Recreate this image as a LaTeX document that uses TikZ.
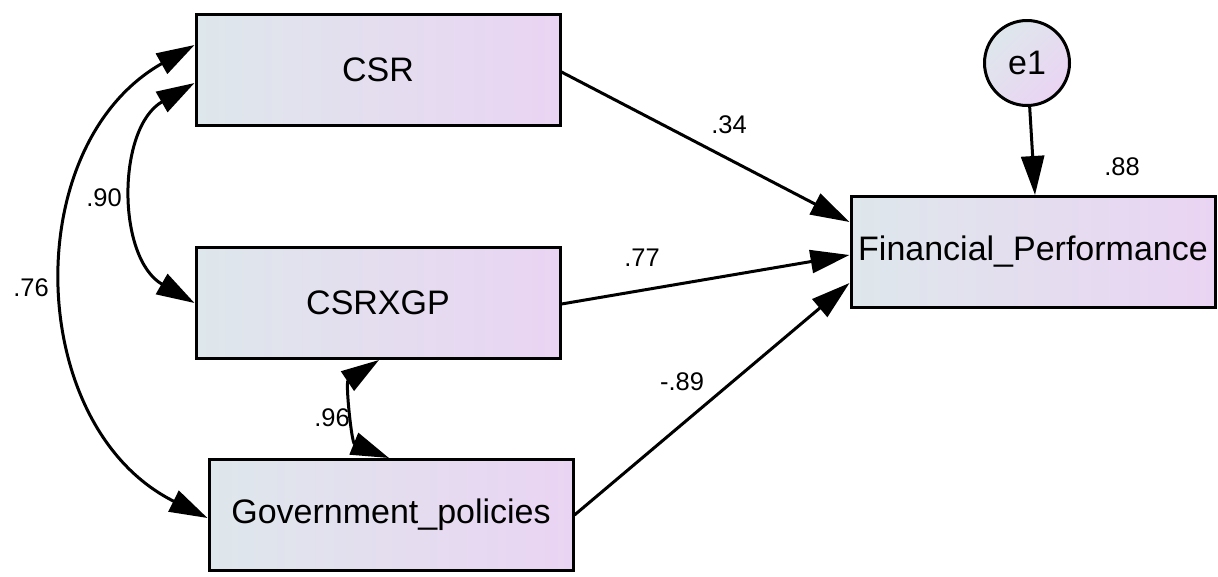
\documentclass[tikz,border=0pt]{standalone}
\usepackage{fontspec}
\setmainfont{Liberation Sans}
\usepackage{xcolor}
\usepackage{tikz}
\usetikzlibrary{arrows.meta, positioning}
\definecolor{boxleft}{RGB}{222,231,235}
\definecolor{boxright}{RGB}{234,212,243}

\begin{document}
\begin{tikzpicture}[
  x=1pt, y=1pt,
  box/.style={rectangle, draw, line width=3pt, left color=boxleft, right color=boxright,
              minimum width=364pt, minimum height=111pt, inner sep=3pt,
              font=\fontsize{34}{40}\selectfont},
  err/.style={circle, draw, line width=3pt, top color=boxleft, bottom color=boxright,
              shading angle=45, minimum size=85pt, inner sep=0pt,
              font=\fontsize{34}{40}\selectfont},
  lbl/.style={font=\fontsize{25.5}{30}\selectfont, inner sep=0pt},
  arrow/.style={-{Triangle[length=39pt, width=23pt]}, line width=3pt},
  covar/.style={{Triangle[length=38pt, width=23pt]}-{Triangle[length=38pt, width=23pt]},
                line width=3pt}
]
  \useasboundingbox (0,0) rectangle (1218,-576);

  % 左列
  \node[box] (csr) at (378,-70) {CSR};
  \node[box, below=119pt of csr] (cxg) {CSRXGP};
  \node[box, below=98pt of cxg, xshift=13pt] (gov) {Government\_policies};

  % 右侧
  \node[box] (fp) at (1033,-252) {Financial\_Performance};
  \node[err, above=88pt of fp, xshift=-6pt] (e1) {e1};

  % 路径
  \draw[arrow] ([yshift=-2pt]csr.east) -- ([yshift=30pt]fp.west);
  \draw[arrow] ([yshift=-1pt]cxg.east) -- ([yshift=-3pt]fp.west);
  \draw[arrow] (gov.east) -- ([yshift=-31pt]fp.west);
  \draw[arrow] (e1) -- ([xshift=2pt]fp.north);

  % 协方差
  \draw[covar] ([yshift=25pt]csr.west) to[bend right=62, looseness=1.1] ([yshift=-3pt]gov.west);
  \draw[covar] ([yshift=-13pt]csr.west) to[bend right=60, looseness=1.05] (cxg.west);
  \draw[covar] ([xshift=1pt]cxg.south) to[bend right=62, looseness=1.05] ([xshift=-2pt]gov.north);

  % 系数
  \node[lbl] (b34) at (729,-125) {.34};
  \node[lbl] (b77) at (642,-258) {.77};
  \node[lbl] (b89) at (682,-382) {-.89};
  \node[lbl] (r88) at (1122,-167) {.88};
  \node[lbl] (c90) at (104,-198) {.90};
  \node[lbl] (c76) at (31,-288) {.76};
  \node[lbl] (c96) at (332,-418) {.96};

\end{tikzpicture}
\end{document}
